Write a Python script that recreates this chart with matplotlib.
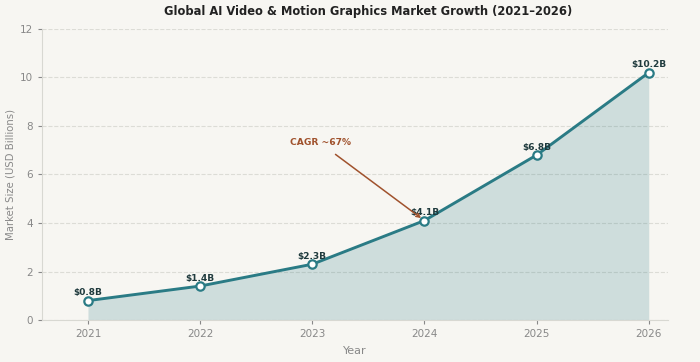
import matplotlib
matplotlib.use('Agg')
import matplotlib.pyplot as plt

years = [2021, 2022, 2023, 2024, 2025, 2026]
market = [0.8, 1.4, 2.3, 4.1, 6.8, 10.2]
labels = ['$0.8B', '$1.4B', '$2.3B', '$4.1B', '$6.8B', '$10.2B']

bg = '#f7f6f2'
teal = '#2a7b85'

fig = plt.figure(figsize=(7, 3.62), dpi=100, facecolor=bg)
ax = fig.add_axes([0.06, 0.116, 0.894, 0.804], facecolor=bg)

ax.fill_between(years, market, color=teal, alpha=0.2, linewidth=0)
ax.plot(years, market, color=teal, linewidth=2.1, marker='o', markersize=6,
        markerfacecolor='white', markeredgecolor=teal, markeredgewidth=1.6, zorder=3)

for x, y, t in zip(years, market, labels):
    ax.annotate(t, (x, y), xytext=(0, 2.5), textcoords='offset points',
                ha='center', va='bottom', fontsize=6.5, fontweight='bold', color='#1f3a3d')

ax.annotate('CAGR ~67%', xy=(2024, 4.1), xytext=(2023.07, 7.3),
            fontsize=6.6, fontweight='bold', color='#a0522d', ha='center', va='center',
            arrowprops=dict(arrowstyle='->', color='#a0522d', lw=1.1, shrinkA=5, shrinkB=3))

ax.set_xlim(2020.59, 2026.17)
ax.set_ylim(0, 12)
ax.set_xticks(years)
ax.set_yticks([0, 2, 4, 6, 8, 10, 12])
ax.tick_params(colors='#888888', labelsize=7.5, length=3)
ax.grid(axis='y', linestyle='--', color='#dcdcd6', linewidth=0.8)
ax.set_axisbelow(True)
for s in ['top', 'right']:
    ax.spines[s].set_visible(False)
for s in ['left', 'bottom']:
    ax.spines[s].set_color('#d8d8d2')

ax.set_title('Global AI Video & Motion Graphics Market Growth (2021\u20132026)',
             fontsize=8.3, fontweight='bold', color='#222222', pad=10, x=0.521)
ax.set_xlabel('Year', fontsize=8, color='#888888', labelpad=5)
ax.set_ylabel('Market Size (USD Billions)', fontsize=7.3, color='#888888', labelpad=3)

fig.savefig('out.png', dpi=100, facecolor=bg)
